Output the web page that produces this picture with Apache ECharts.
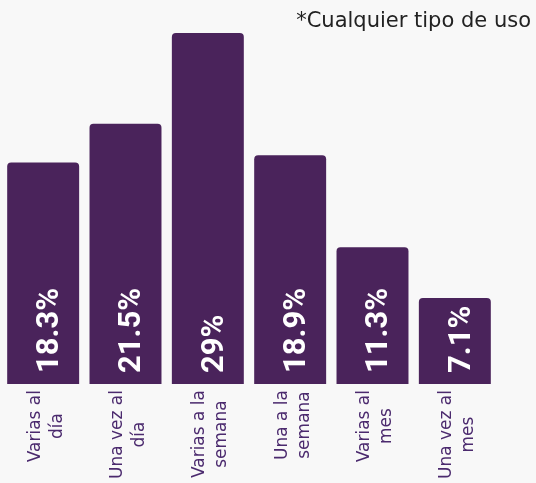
<!DOCTYPE html>
<html>
<head>
<meta charset="utf-8">
<script src="https://cdn.jsdelivr.net/npm/echarts@6/dist/echarts.min.js"></script>
<style>
  html, body { margin: 0; padding: 0; background: #f8f8f8; }
  #chart { width: 536px; height: 483px; }
</style>
</head>
<body>
<div id="chart"></div>
<script>
const categories = [
  'Varias al\ndía',
  'Una vez al\ndía',
  'Varias a la\nsemana',
  'Una a la\nsemana',
  'Varias al\nmes',
  'Una vez al\nmes',
]
const values = [18.3, 21.5, 29, 18.9, 11.3, 7.1]
const valueLabels = ['18.3%', '21.5%', '29%', '18.9%', '11.3%', '7.1%']

const chart = echarts.init(document.getElementById('chart'))
chart.setOption({
  backgroundColor: '#f8f8f8',
  animation: false,
  title: {
    text: '*Cualquier tipo de uso',
    right: 0,
    top: 6,
    textStyle: {
      fontFamily: 'DejaVu Sans',
      fontWeight: 'normal',
      fontSize: 21,
      color: '#222',
    },
  },
  grid: {
    left: 2,
    right: 40,
    top: 33,
    bottom: 99,
  },
  xAxis: {
    type: 'category',
    data: categories,
    axisLine: { show: false },
    axisTick: { show: false },
    axisLabel: {
      rotate: 90,
      margin: 6,
      interval: 0,
      padding: [6, 0, 0, 0],
      color: '#4b2a6e',
      formatter: (v) => v.split('\n').map((l) => '{c|' + l + '}').join('\n'),
      rich: {
        c: {
          align: 'center',
          fontFamily: 'DejaVu Sans',
          fontSize: 17,
          lineHeight: 22,
          color: '#4b2a6e',
        },
      },
    },
  },
  yAxis: {
    type: 'value',
    min: 0,
    max: 29,
    show: false,
    splitLine: { show: false },
  },
  series: [
    {
      type: 'bar',
      data: values,
      barCategoryGap: '12.6%',
      itemStyle: {
        color: '#4a235b',
        borderRadius: [4, 4, 0, 0],
      },
      label: {
        show: true,
        position: 'insideBottom',
        distance: 11,
        rotate: 90,
        align: 'left',
        verticalAlign: 'middle',
        offset: [0, 7],
        fontFamily: 'Roboto',
        fontWeight: 'bold',
        fontSize: 31,
        color: '#fff',
        formatter: (p) => valueLabels[p.dataIndex],
      },
    },
  ],
})
</script>
</body>
</html>
